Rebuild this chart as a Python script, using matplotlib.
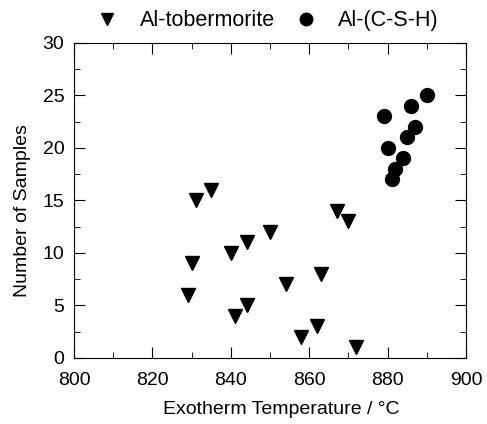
import matplotlib.pyplot as plt
from matplotlib.ticker import MultipleLocator

plt.rcParams['font.family'] = ['Liberation Sans', 'DejaVu Sans']

# Al-tobermorite samples
tob_temp = [831, 835, 830, 829, 840, 844, 850, 841, 844, 854, 863, 858, 862, 867, 870, 872]
tob_n = [15, 16, 9, 6, 10, 11, 12, 4, 5, 7, 8, 2, 3, 14, 13, 1]

# Al-(C-S-H) samples
csh_temp = [890, 886, 879, 887, 885, 880, 884, 882, 881]
csh_n = [25, 24, 23, 22, 21, 20, 19, 18, 17]

fs = 14

fig = plt.figure(figsize=(4.87, 4.24), dpi=100)
ax = fig.add_axes([0.152, 0.156, 0.805, 0.743])

ax.plot(tob_temp, tob_n, 'v', color='k', markersize=9.5, label='Al-tobermorite', clip_on=False)
ax.plot(csh_temp, csh_n, 'o', color='k', markersize=10, label='Al-(C-S-H)', clip_on=False)

ax.set_xlim(800, 900)
ax.set_ylim(0, 30)
ax.xaxis.set_major_locator(MultipleLocator(20))
ax.xaxis.set_minor_locator(MultipleLocator(10))
ax.yaxis.set_major_locator(MultipleLocator(5))
ax.yaxis.set_minor_locator(MultipleLocator(2.5))
ax.tick_params(which='both', direction='in', top=True, right=True, labelsize=fs)
ax.tick_params(axis='x', which='both', pad=10)
ax.tick_params(axis='y', which='both', pad=7)
ax.tick_params(which='major', length=8)
ax.tick_params(which='minor', length=4)

ax.set_xlabel('Exotherm Temperature / \u00b0C', fontsize=fs)
ax.set_ylabel('Number of Samples', fontsize=fs)
ax.xaxis.set_label_coords(0.528, -0.137)
ax.yaxis.set_label_coords(-0.11, 0.467)

ax.legend(loc='upper left', bbox_to_anchor=(0.198, 0.976), bbox_transform=fig.transFigure,
          ncol=2, frameon=False, fontsize=15.5, handlelength=1.0, handletextpad=1.0,
          columnspacing=0.95, markerscale=0.9, borderpad=0, borderaxespad=0)

fig.savefig('out.png', dpi=100)
